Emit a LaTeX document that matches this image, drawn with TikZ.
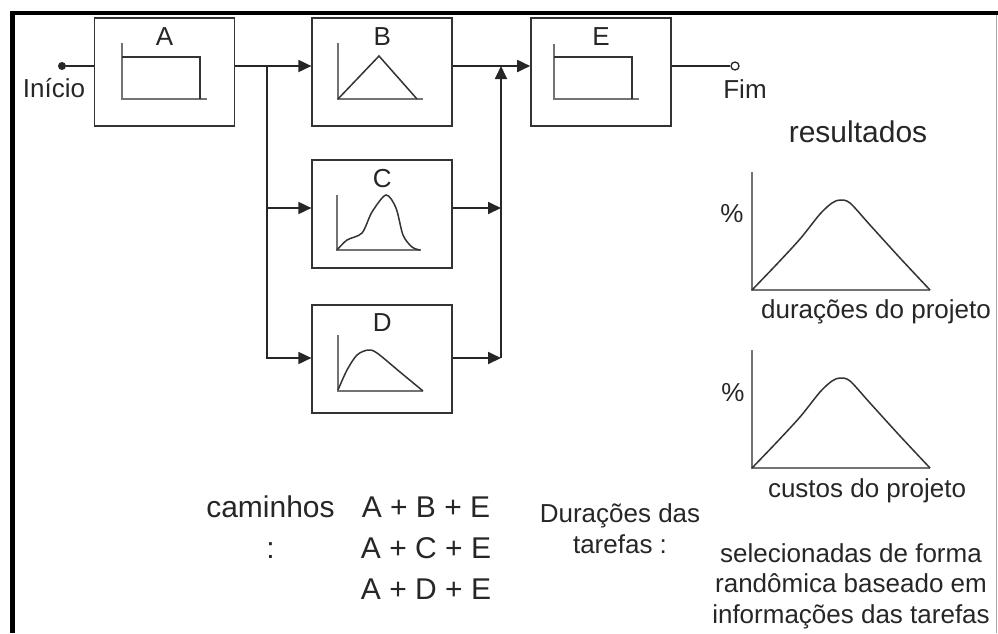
\documentclass[tikz,border=0pt]{standalone}
\usepackage{fontspec}
\setmainfont{Liberation Sans}
\usepackage{tikz}
\usetikzlibrary{arrows.meta, positioning}
\tikzset{
  task/.style={rectangle, draw=black!80, line width=1.8pt, fill=white,
    minimum width=140pt, minimum height=108pt, inner sep=0pt},
  tag/.style={font=\fontsize{26}{30}\selectfont, inner sep=0pt, text=black!85},
  note/.style={font=\fontsize{26}{30.5}\selectfont, align=center, inner sep=0pt, text=black!85},
  big/.style={font=\fontsize{30}{41}\selectfont, align=center, inner sep=0pt, text=black!85},
  axis/.style={draw=black!55, line width=1.6pt},
  curve/.style={draw=black!80, line width=1.5pt},
  wire/.style={draw=black!85, line width=1.8pt},
  arrow/.style={-{Triangle[length=13pt, width=12pt]}, wire}
}

\begin{document}
\begin{tikzpicture}[x=1pt, y=-1pt]
  \useasboundingbox (0,0) rectangle (998,633);
  % frame
  \draw[line width=4.5pt] (12.5,633) -- (12.5,13) -- (998,13);
  \draw[black!35, line width=1.5pt] (996.5,15) -- (996.5,633);

  % tasks
  \node[task] (boxA) at (164.5,72) {};
  \node[task, right=76pt of boxA] (boxB) {};
  \node[task, right=77pt of boxB] (boxE) {};
  \node[task, below=32pt of boxB] (boxC) {};
  \node[task, below=35pt of boxC] (boxD) {};
  \node[tag, below=10pt of boxA.north] (labA) {A};
  \node[tag, below=10pt of boxB.north] (labB) {B};
  \node[tag, below=10pt of boxC.north] (labC) {C};
  \node[tag, below=10pt of boxD.north] (labD) {D};
  \node[tag, below=10pt of boxE.north] (labE) {E};

  % task distributions
  \draw[axis] (122,43) -- (122,99) -- (207,99);
  \draw[curve] (122,57) -- (200,57) -- (200,99);
  \draw[axis] (338,43) -- (338,99) -- (423,99);
  \draw[curve] (338,99) -- (379,56) -- (417,99);
  \draw[axis] (337,195) -- (337,250) -- (421,250);
  \draw[curve] plot[smooth] coordinates {(337,250) (347,240) (362,233) (372,212)
    (386,195) (396,208) (403,235) (412,247) (420,250)};
  \draw[axis] (338,335) -- (338,391) -- (423,391);
  \draw[curve] plot[smooth] coordinates {(338,390) (347,370) (357,355) (368,350)
    (377,353) (400,372) (423,391)};
  \draw[axis] (554,44) -- (554,99) -- (639,99);
  \draw[curve] (554,57) -- (632,57) -- (632,99);

  % start and end
  \node[circle, fill=black!85, inner sep=0pt, minimum size=8pt] (ini) at (62,66) {};
  \node[tag, anchor=base] (lblIni) at (54,97) {Início};
  \node[circle, draw=black!85, fill=white, line width=1.3pt, inner sep=0pt,
    minimum size=8pt] (fim) at (735,66) {};
  \node[tag, anchor=base] (lblFim) at (745,98) {Fim};

  \coordinate (fork) at (267,66);
  \coordinate (merge) at (501,66);
  \coordinate (cIn) at (501,208);
  \coordinate (dIn) at (501,358);

  \draw[wire] (ini) -- (boxA.west |- ini);
  \draw[arrow] (boxA.east |- fork) -- (boxB.west |- fork);
  \draw[arrow] (fork) |- (boxC.west |- cIn);
  \draw[arrow] (fork) |- (boxD.west |- dIn);
  \draw[arrow] (boxC.east |- cIn) -- (cIn);
  \draw[arrow] (boxD.east |- dIn) -- (dIn);
  \draw[arrow] (dIn) -- (merge);
  \draw[arrow] (boxB.east |- merge) -- (boxE.west |- merge);
  \draw[wire] (boxE.east |- fim) -- (fim);

  % results
  \node[big, anchor=base] (res) at (858,142) {resultados};
  \draw[axis] (752,172) -- (752,290) -- (930,290);
  \draw[curve] plot[smooth] coordinates {(752,290) (776,265) (800,239) (820,214)
    (832,203) (840,200) (850,203) (870,225) (900,258) (930,290)};
  \node[tag] (pctDur) at (732,214) {\%};
  \node[note, anchor=base] (capDur) at (876,318) {durações do projeto};
  \draw[axis] (752,350) -- (752,468) -- (930,468);
  \draw[curve] plot[smooth] coordinates {(752,468) (776,443) (800,417) (820,392)
    (832,381) (840,378) (850,381) (870,403) (900,436) (930,468)};
  \node[tag] (pctCost) at (733,393) {\%};
  \node[note, anchor=base] (capCost) at (867,497) {custos do projeto};

  % legend texts
  \node[big, anchor=base] (paths) at (270.5,558) {caminhos\\:};
  \node[big, anchor=base] (pathList) at (426,599) {A + B + E\\A + C + E\\A + D + E};
  \node[note, anchor=base] (taskDur) at (620,553) {Durações das\\tarefas :};
  \node[note, anchor=base] (taskRand) at (851,623)
    {selecionadas de forma\\randômica baseado em\\informações das tarefas};
\end{tikzpicture}
\end{document}
